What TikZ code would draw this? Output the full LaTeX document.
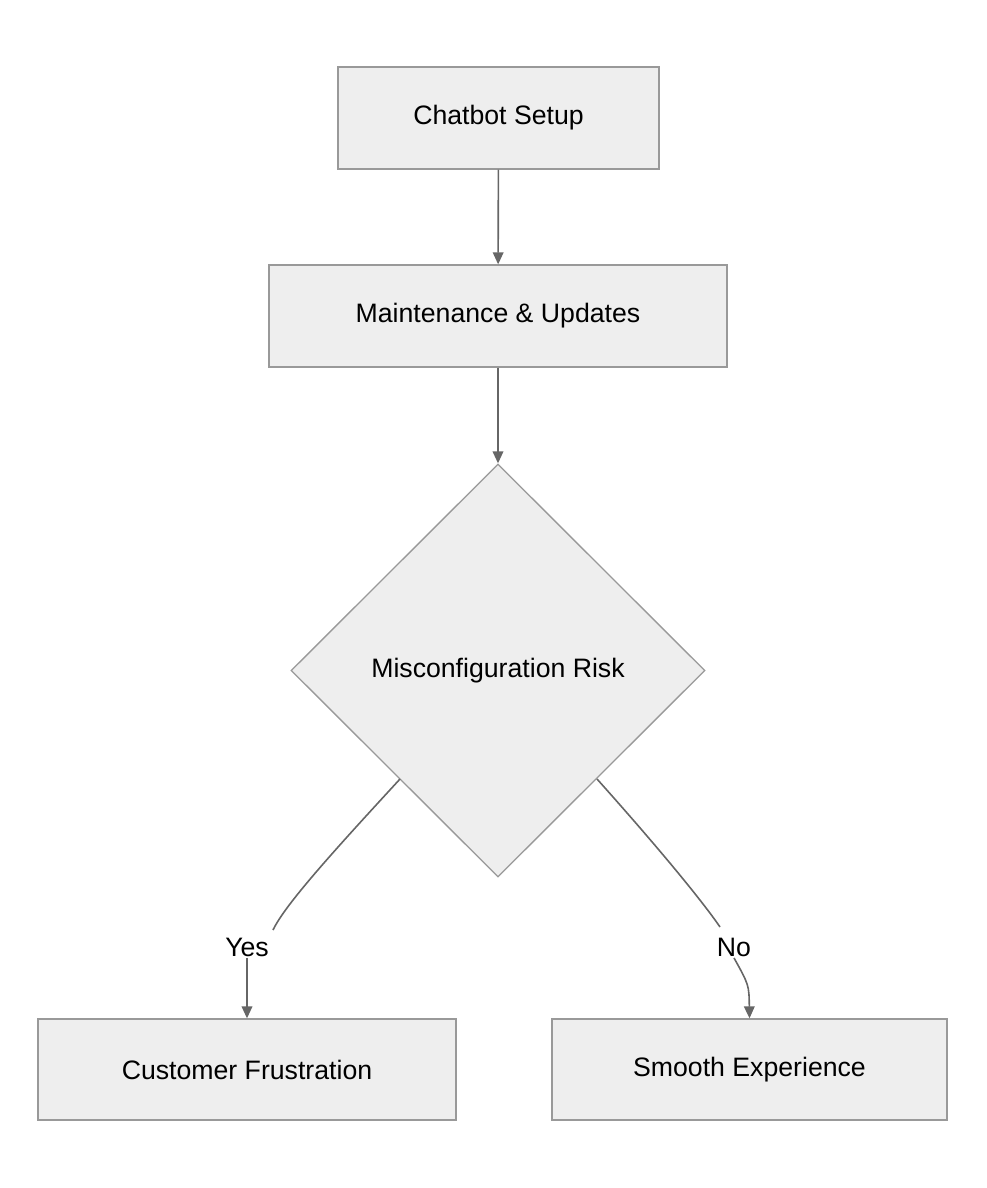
\documentclass[tikz,border=0pt]{standalone}
\usepackage{fontspec}
\setmainfont{Liberation Sans}
\usetikzlibrary{shapes.geometric,arrows.meta}
\definecolor{boxfill}{HTML}{EEEEEE}
\definecolor{boxline}{HTML}{999999}
\definecolor{edge}{HTML}{666666}
\begin{document}
\begin{tikzpicture}[x=0.75pt,y=-0.75pt,
  box/.style={draw=boxline,fill=boxfill,line width=1pt,inner sep=0pt,font=\fontsize{20}{24}\selectfont},
  dia/.style={diamond,draw=boxline,fill=boxfill,line width=1pt,inner sep=0pt,aspect=1,minimum width=414*0.75pt,minimum height=413*0.75pt,font=\fontsize{20}{24}\selectfont},
  lab/.style={font=\fontsize{20}{24}\selectfont,fill=white,inner sep=1pt},
  arr/.style={draw=edge,line width=1.2pt,-{Triangle[length=9pt,width=8pt]}},
  ln/.style={draw=edge,line width=1.2pt}]
\useasboundingbox (0,0) rectangle (986,1188);
\node[box,minimum width=321*0.75pt,minimum height=102*0.75pt] (a) at (498.5,118) {Chatbot Setup};
\node[box,minimum width=458*0.75pt,minimum height=102*0.75pt] (b) at (498,316) {Maintenance \& Updates};
\node[dia] (c) at (498,670.5) {Misconfiguration Risk};
\node[box,minimum width=418*0.75pt,minimum height=101*0.75pt] (d) at (247,1069.5) {Customer Frustration};
\node[box,minimum width=395*0.75pt,minimum height=101*0.75pt] (e) at (749.5,1069.5) {Smooth Experience};
\node[lab] (y) at (247,947) {Yes};
\node[lab] (n) at (734,947) {No};
\coordinate (c1) at (400,779);
\coordinate (c2) at (597,779);
\coordinate (y1) at (273,930);
\coordinate (n1) at (720,927);
\draw[arr] (a) -- (b);
\draw[arr] (b) -- (c);
\draw[ln] (c1) .. controls (330,855) and (285,905) .. (y1);
\draw[ln] (c2) .. controls (665,855) and (705,905) .. (n1);
\draw[arr] (y.south) .. controls (247,985) .. (d.north);
\draw[arr] (n.south) .. controls (749,985) .. (e.north);
\end{tikzpicture}
\end{document}
